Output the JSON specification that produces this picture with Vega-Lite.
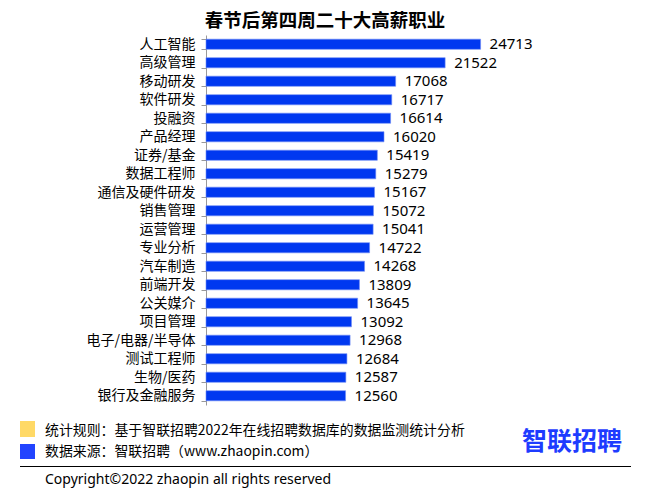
{
  "$schema": "https://vega.github.io/schema/vega-lite/v6.json",
  "autosize": "none",
  "width": 300,
  "height": 370,
  "padding": {"left": 206, "top": 35, "right": 142, "bottom": 93},
  "background": "white",
  "config": {"view": {"stroke": null}, "font": "Noto Sans CJK SC", "text": {"font": "Noto Sans CJK SC"}},
  "data": {"values": [
    {"job": "人工智能", "salary": 24713},
    {"job": "高级管理", "salary": 21522},
    {"job": "移动研发", "salary": 17068},
    {"job": "软件研发", "salary": 16717},
    {"job": "投融资", "salary": 16614},
    {"job": "产品经理", "salary": 16020},
    {"job": "证券/基金", "salary": 15419},
    {"job": "数据工程师", "salary": 15279},
    {"job": "通信及硬件研发", "salary": 15167},
    {"job": "销售管理", "salary": 15072},
    {"job": "运营管理", "salary": 15041},
    {"job": "专业分析", "salary": 14722},
    {"job": "汽车制造", "salary": 14268},
    {"job": "前端开发", "salary": 13809},
    {"job": "公关媒介", "salary": 13645},
    {"job": "项目管理", "salary": 13092},
    {"job": "电子/电器/半导体", "salary": 12968},
    {"job": "测试工程师", "salary": 12684},
    {"job": "生物/医药", "salary": 12587},
    {"job": "银行及金融服务", "salary": 12560}
  ]},
  "layer": [
    {
      "mark": {"type": "bar", "color": "#0038F0", "stroke": "#6E8CF5", "strokeWidth": 0.6},
      "encoding": {
        "y": {"field": "job", "type": "nominal", "sort": null,
              "scale": {"paddingInner": 0.45, "paddingOuter": 0.225},
              "axis": {"title": null, "labelFontSize": 14, "labelColor": "#000", "labelFont": "Noto Sans CJK SC",
                       "tickBand": "extent", "tickSize": 5, "tickColor": "#999", "domainColor": "#999", "labelPadding": 6}},
        "x": {"field": "salary", "type": "quantitative", "scale": {"domain": [0, 27000], "nice": false}, "axis": null}
      }
    },
    {
      "mark": {"type": "text", "align": "left", "baseline": "middle", "dx": 9, "fontSize": 15, "color": "#000", "font": "Noto Sans"},
      "encoding": {
        "y": {"field": "job", "type": "nominal", "sort": null},
        "x": {"field": "salary", "type": "quantitative"},
        "text": {"field": "salary", "type": "quantitative", "format": "d"}
      }
    },
    {
      "data": {"values": [{"t": "春节后第四周二十大高薪职业"}]},
      "mark": {"type": "text", "align": "center", "baseline": "middle", "fontSize": 18.5, "fontWeight": "bold", "color": "#000"},
      "encoding": {"x": {"value": 119}, "y": {"value": -14}, "text": {"field": "t"}}
    },
    {
      "data": {"values": [{"c": "yellow"}]},
      "mark": {"type": "rect", "color": "#FFD966"},
      "encoding": {"x": {"value": -186}, "x2": {"value": -171}, "y": {"value": 386}, "y2": {"value": 402}}
    },
    {
      "data": {"values": [{"c": "blue"}]},
      "mark": {"type": "rect", "color": "#2244FF"},
      "encoding": {"x": {"value": -186}, "x2": {"value": -171}, "y": {"value": 409}, "y2": {"value": 424}}
    },
    {
      "data": {"values": [{"t": "统计规则：基于智联招聘2022年在线招聘数据库的数据监测统计分析"}]},
      "mark": {"type": "text", "align": "left", "baseline": "middle", "fontSize": 13.9, "color": "#000"},
      "encoding": {"x": {"value": -161}, "y": {"value": 396}, "text": {"field": "t"}}
    },
    {
      "data": {"values": [{"t": "数据来源：智联招聘（www.zhaopin.com）"}]},
      "mark": {"type": "text", "align": "left", "baseline": "middle", "fontSize": 13.9, "color": "#000"},
      "encoding": {"x": {"value": -161}, "y": {"value": 417}, "text": {"field": "t"}}
    },
    {
      "data": {"values": [{"c": "line"}]},
      "mark": {"type": "rule", "color": "#000", "strokeWidth": 1},
      "encoding": {"x": {"value": -186}, "x2": {"value": 425}, "y": {"value": 431.5}}
    },
    {
      "data": {"values": [{"t": "Copyright©2022 zhaopin all rights reserved"}]},
      "mark": {"type": "text", "align": "left", "baseline": "middle", "fontSize": 14, "color": "#000", "font": "Noto Sans"},
      "encoding": {"x": {"value": -161}, "y": {"value": 445}, "text": {"field": "t"}}
    },
    {
      "data": {"values": [{"t": "智联招聘"}]},
      "mark": {"type": "text", "align": "center", "baseline": "middle", "fontSize": 25, "fontWeight": "bold", "color": "#1E3CFF"},
      "encoding": {"x": {"value": 366}, "y": {"value": 407}, "text": {"field": "t"}}
    }
  ]
}
